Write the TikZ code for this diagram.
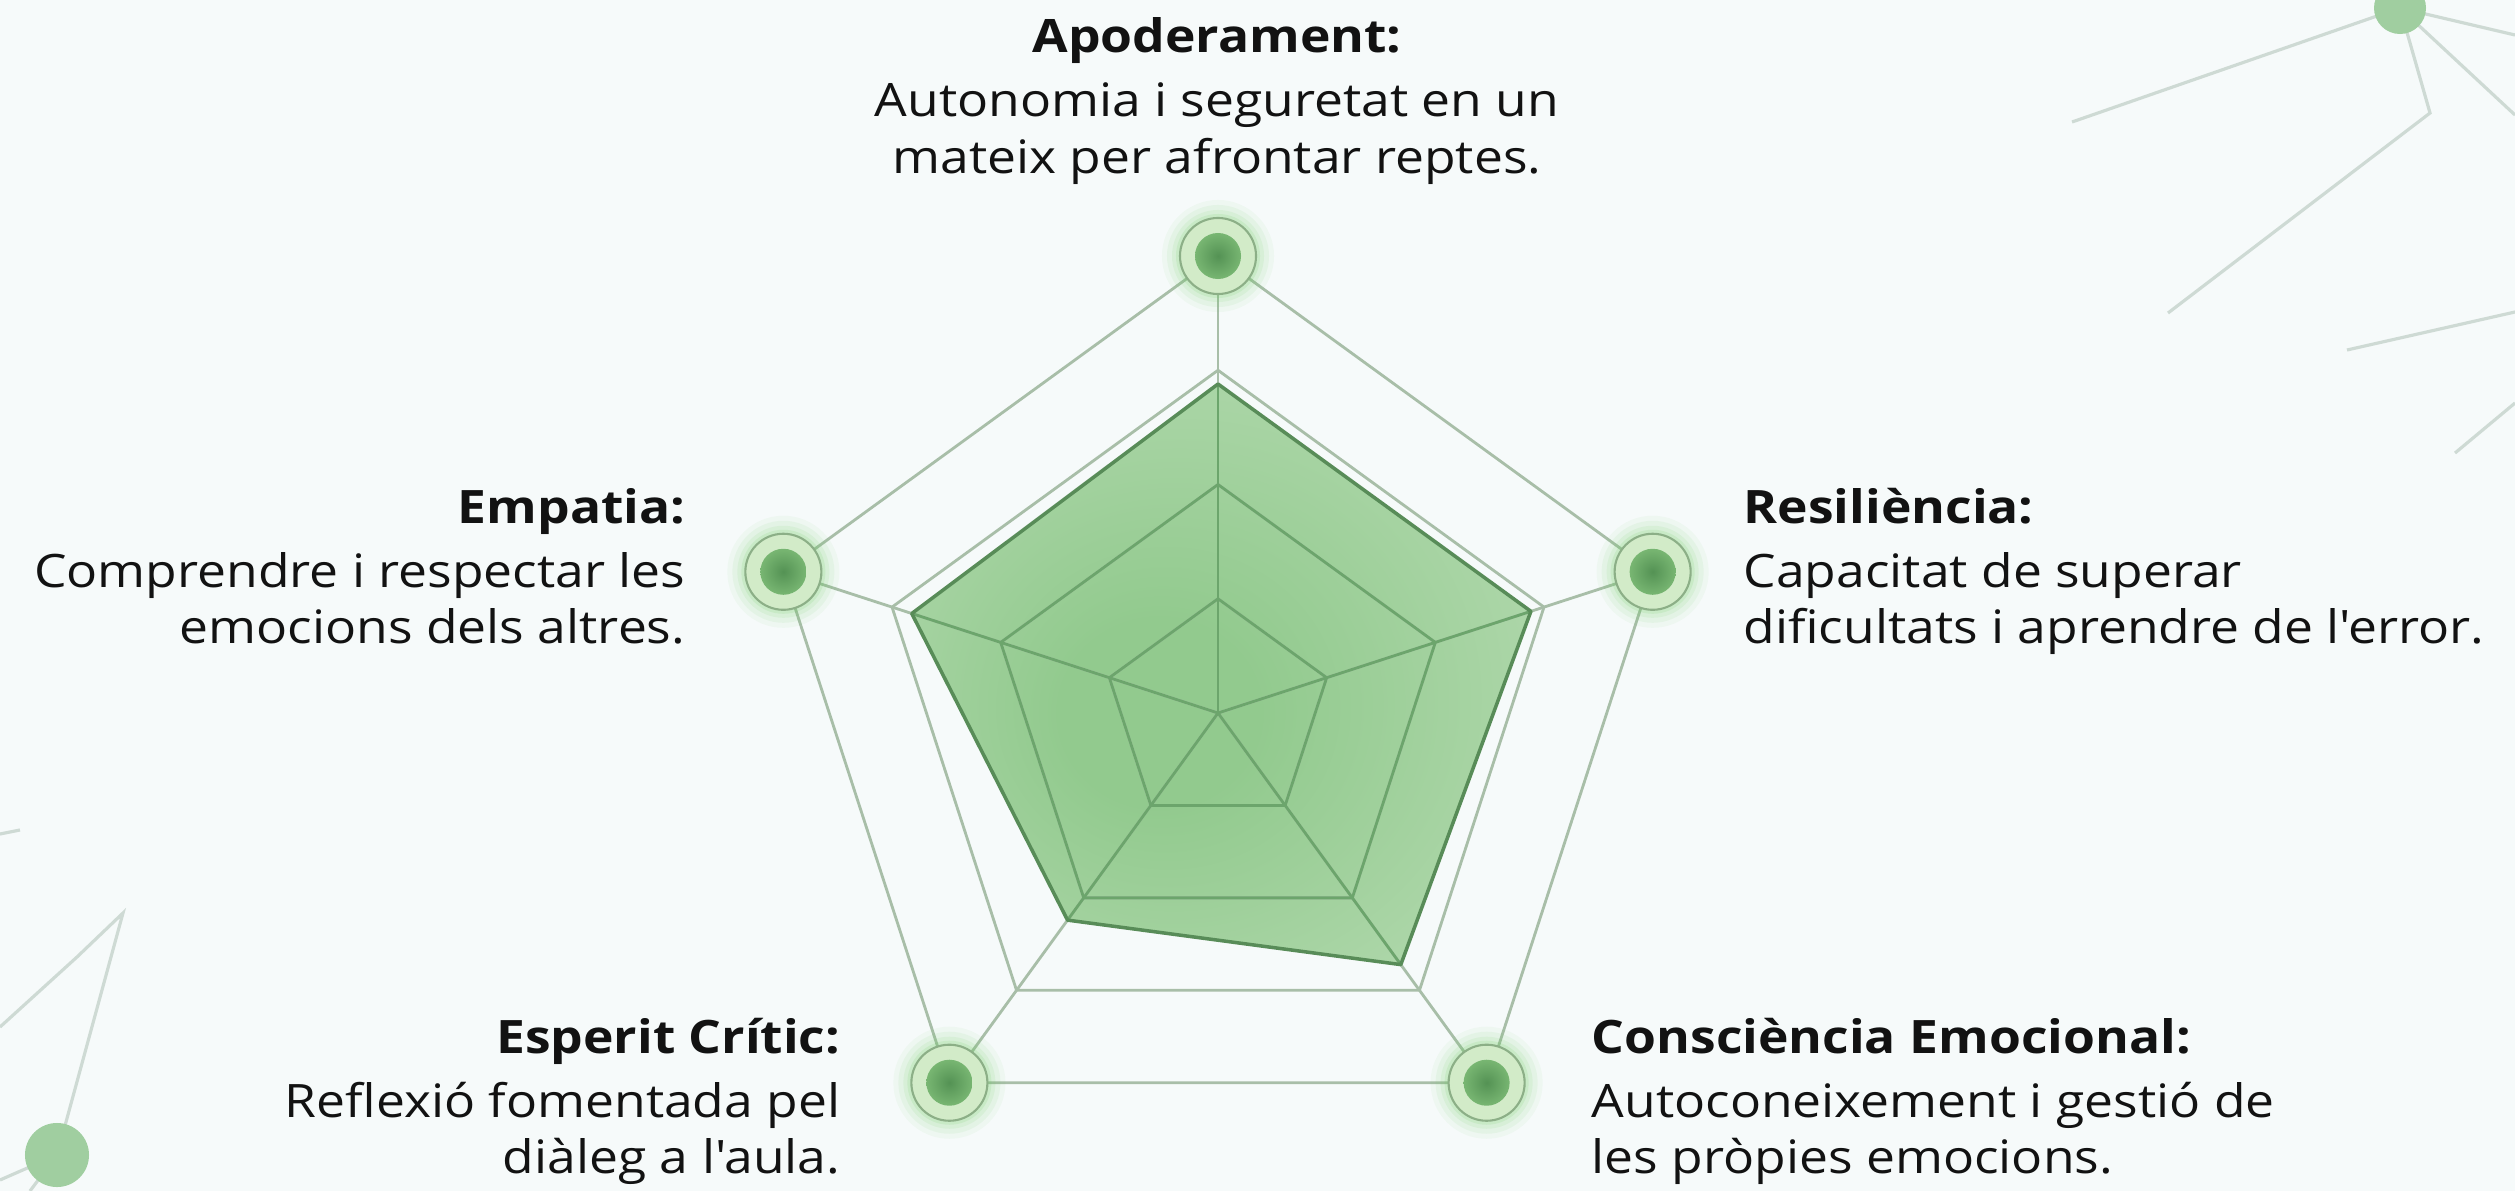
\documentclass[tikz,border=0pt]{standalone}
\usepackage{fontspec}
\setmainfont{Open Sans}[FakeStretch=1.12, Ligatures=TeXOff]
\usetikzlibrary{calc}
\definecolor{bgc}{RGB}{246,250,250}
\definecolor{gridc}{RGB}{168,190,168}
\definecolor{gridin}{RGB}{108,165,108}
\definecolor{datac}{RGB}{88,140,88}
\definecolor{fillin}{RGB}{146,202,142}
\definecolor{fillmid}{RGB}{174,215,170}
\definecolor{fillout}{RGB}{204,230,200}
\definecolor{ringc}{RGB}{210,235,200}
\definecolor{ringd}{RGB}{140,175,135}
\definecolor{dotc}{RGB}{120,182,114}
\definecolor{dotd}{RGB}{84,146,84}
\definecolor{glowc}{RGB}{110,205,100}
\definecolor{decoc}{RGB}{206,218,212}
\definecolor{deconode}{RGB}{160,206,160}
\definecolor{txt}{RGB}{18,18,18}
\pgfdeclareradialshading{datash}{\pgfpoint{-6bp}{-4bp}}{color(0bp)=(fillin); color(8bp)=(fillin); color(30bp)=(fillmid); color(50bp)=(fillout)}
\begin{document}
\begin{tikzpicture}[x=0.01cm,y=-0.01cm,
  gridline/.style={draw=gridc, line width=0.8pt, line join=round},
  gridinner/.style={draw=gridin, line width=0.8pt, line join=round},
  dataline/.style={draw=datac, line width=1.0pt, line join=round},
  deco/.style={draw=decoc, line width=0.9pt},
  ring/.style={circle, minimum size=0.76cm, inner sep=0pt, fill=ringc, draw=ringd, line width=0.6pt},
  dot/.style={circle, minimum size=0.46cm, inner sep=0pt, shade, inner color=dotd, outer color=dotc},
  lbl/.style={inner sep=0pt, text=txt, font=\fontsize{13.1pt}{16.2pt}\selectfont}]
\fill[bgc] (0,0) rectangle (2515,1191);
\useasboundingbox (0,0) rectangle (2515,1191);

% decorative network, top right
\coordinate (trn) at (2400,8);
\draw[deco] (trn) -- (2072,122);
\draw[deco] (trn) -- (2430,113) -- (2168,313);
\draw[deco] (trn) -- (2515,35);
\draw[deco] (trn) -- (2515,115);
\draw[deco] (2347,350) -- (2515,312);
\draw[deco] (2455,453) -- (2515,403);
\fill[deconode] (trn) circle[radius=0.26cm];
% decorative network, bottom left
\coordinate (bln) at (57,1155);
\draw[deco] (bln) -- (123,913) -- (77,957) -- (0,1027);
\draw[deco] (0,834) -- (20,830);
\draw[deco] (bln) -- (0,1180);
\draw[deco] (bln) -- (30,1191);
\fill[deconode] (bln) circle[radius=0.32cm];

% radar chart
\coordinate (C) at (1218,713);
\foreach \n/\a in {mt/-90, mr/-18, mbr/54, mbl/126, ml/198}
  \coordinate (\n) at ($(C)+(\a:457)$);
\coordinate (d1) at ($(C)+(-90:329)$);
\coordinate (d2) at ($(C)+(-18:329)$);
\coordinate (d3) at ($(C)+(54:311)$);
\coordinate (d4) at ($(C)+(126:256)$);
\coordinate (d5) at ($(C)+(198:322)$);

\shade[shading=datash] (d1) -- (d2) -- (d3) -- (d4) -- (d5) -- cycle;

\foreach \L in {0.25,0.5,0.75,1}
  \draw[gridline] ($(C)+(-90:\L*457)$) -- ($(C)+(-18:\L*457)$) -- ($(C)+(54:\L*457)$) -- ($(C)+(126:\L*457)$) -- ($(C)+(198:\L*457)$) -- cycle;
\foreach \n in {mt,mr,mbr,mbl,ml}
  \draw[gridline] (C) -- (\n);

\begin{scope}
  \clip (d1) -- (d2) -- (d3) -- (d4) -- (d5) -- cycle;
  \foreach \L in {0.25,0.5,0.75}
    \draw[gridinner] ($(C)+(-90:\L*457)$) -- ($(C)+(-18:\L*457)$) -- ($(C)+(54:\L*457)$) -- ($(C)+(126:\L*457)$) -- ($(C)+(198:\L*457)$) -- cycle;
  \foreach \n in {mt,mr,mbr,mbl,ml}
    \draw[gridinner] (C) -- (\n);
\end{scope}
\draw[dataline] (d1) -- (d2) -- (d3) -- (d4) -- (d5) -- cycle;

% markers
\foreach \n in {mt,mr,mbr,mbl,ml} {
  \fill[glowc, opacity=0.06] (\n) circle[radius=0.56cm];
  \fill[glowc, opacity=0.08] (\n) circle[radius=0.51cm];
  \fill[glowc, opacity=0.10] (\n) circle[radius=0.46cm];
  \fill[glowc, opacity=0.14] (\n) circle[radius=0.42cm];
  \node[ring] (\n-ring) at (\n) {};
  \node[dot] (\n-dot) at (\n) {};
}

% labels
\node[lbl, anchor=base] (tApo) at (1217,53) {\begin{tabular}[t]{@{}c@{}}\textbf{Apoderament:}\\[2pt] Autonomia i seguretat en un\\ mateix per afrontar reptes.\end{tabular}};
\node[lbl, anchor=base east] (tEmp) at (686,523) {\begin{tabular}[t]{@{}r@{}}\textbf{Empatia:}\\[2pt] Comprendre i respectar les\\ emocions dels altres.\end{tabular}};
\node[lbl, anchor=base west] (tRes) at (1743,523) {\begin{tabular}[t]{@{}l@{}}\textbf{Resiliència:}\\[2pt] Capacitat de superar\\ dificultats i aprendre de l'error.\end{tabular}};
\node[lbl, anchor=base east] (tEsp) at (841,1053) {\begin{tabular}[t]{@{}r@{}}\textbf{Esperit Crític:}\\[2pt] Reflexió fomentada pel\\ diàleg a l'aula.\end{tabular}};
\node[lbl, anchor=base west] (tCon) at (1591,1053) {\begin{tabular}[t]{@{}l@{}}\textbf{Consciència Emocional:}\\[2pt] Autoconeixement i gestió de\\ les pròpies emocions.\end{tabular}};
\end{tikzpicture}
\end{document}
